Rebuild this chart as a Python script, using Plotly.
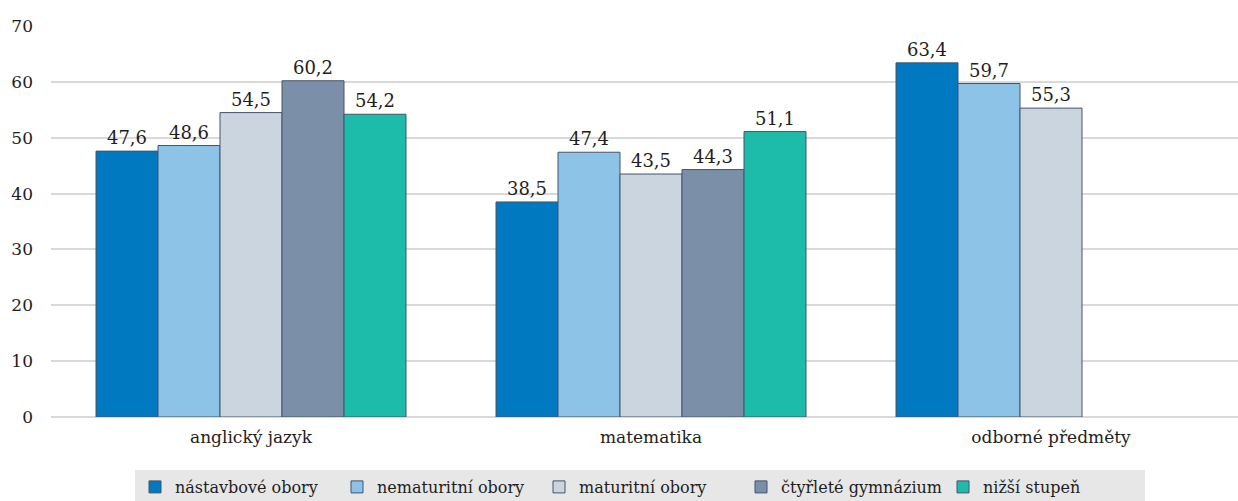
import plotly.graph_objects as go

categories = ["anglický jazyk", "matematika", "odborné předměty"]
series_names = ["nástavbové obory", "nematuritní obory", "maturitní obory", "čtyřleté gymnázium", "nižší stupeň"]
values = [
    [47.6, 38.5, 63.4],
    [48.6, 47.4, 59.7],
    [54.5, 43.5, 55.3],
    [60.2, 44.3, None],
    [54.2, 51.1, None],
]
colors = ["#0079C1", "#8EC3E8", "#CBD5DF", "#7B8FA8", "#1DBBA9"]
y_ticks = [0, 10, 20, 30, 40, 50, 60, 70]

FONT = "DejaVu Serif"

fig = go.Figure()
for name, vals, col in zip(series_names, values, colors):
    fig.add_trace(go.Bar(
        name=name, x=categories, y=vals,
        marker=dict(color=col, line=dict(color="#44546A", width=1)),
        text=[("" if v is None else f"{v:.1f}".replace(".", ",")) for v in vals],
        textposition="outside", cliponaxis=False,
        textfont=dict(family=FONT, size=18, color="#1E1E1E"),
    ))

fig.update_layout(
    width=1238, height=501,
    margin=dict(l=51, r=0, t=26, b=84, autoexpand=False),
    paper_bgcolor="white", plot_bgcolor="white",
    barmode="group", bargap=0.225, bargroupgap=0,
    font=dict(family=FONT, size=17, color="#1E1E1E"),
    showlegend=True,
    legend=dict(
        orientation="h", x=640 / 1238, xanchor="center", xref="container",
        y=1 - 470 / 501, yanchor="top", yref="container",
        bgcolor="#E7E7E7", font=dict(family=FONT, size=16, color="#1E1E1E"),
        itemwidth=30, traceorder="normal",
        entrywidth=157, entrywidthmode="pixels",
    ),
    xaxis=dict(showline=False, ticks="", automargin=False, range=[-0.5, 2.4675],
               tickfont=dict(family=FONT, size=17), ticklabelstandoff=8),
    yaxis=dict(range=[0, 70], tickvals=y_ticks, showgrid=True, gridcolor="#D9D9D9",
               gridwidth=1.5, zeroline=True, zerolinecolor="#D9D9D9", zerolinewidth=1.5,
               automargin=False,
               ticks="", tickfont=dict(family=FONT, size=17), ticklabelstandoff=17),
)

fig.write_html("out.html", config={"displayModeBar": False},
               post_script="document.body.style.margin='0';")
